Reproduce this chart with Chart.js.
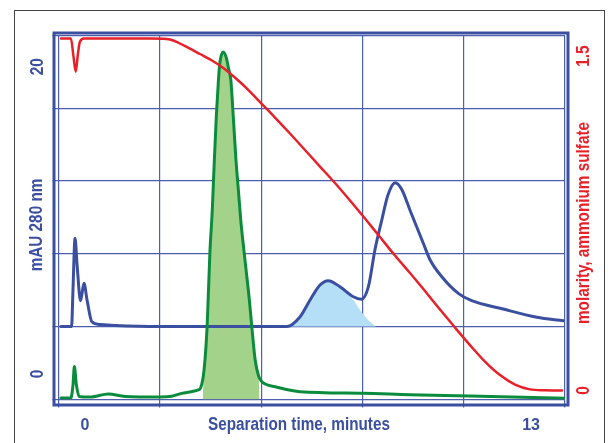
<!DOCTYPE html>
<html>
<head>
<meta charset="utf-8">
<script src="https://cdn.jsdelivr.net/npm/chart.js@4/dist/chart.umd.min.js"></script>
<style>
  html, body { margin: 0; padding: 0; background: #fff; overflow: hidden; }
  #wrap { position: relative; width: 613px; height: 443px; }
  #wrap canvas { position: absolute; left: 0; top: 0; }
  #edge { position: absolute; left: 14px; top: 10px; width: 589px; height: 460px; border: 1px solid #444; pointer-events: none; }
</style>
</head>
<body>
<div id="wrap">
  <canvas id="chart" width="613" height="443"></canvas>
  <div id="edge"></div>
</div>
<script>
// time axis in minutes, UV in mAU (left), salt in M (right)
const X_MIN = -0.772, X_MAX = 13.99;
const Y_MIN = -1.66, Y_MAX = 22.03;
const Y2_MIN = -0.040, Y2_MAX = 1.592;

const X_LABELS = [0, 13];
const LEFT_LABELS = [0, 20];
const RIGHT_LABELS = [0, 1.5];

// blue UV trace
const UV_T   = [-0.70,-0.39,-0.35,-0.29,-0.23,-0.13,-0.03,0.06,0.20,0.44,0.87,2.19,5.88,6.27,6.56,6.85,7.09,7.43,7.82,8.06,8.26,8.45,8.65,8.83,9.04,9.24,9.47,9.86,10.06,10.40,10.88,11.27,12.10,13.17,13.94];
const UV_MAU = [3.09,3.09,5.47,8.83,7.09,4.77,5.90,4.82,3.40,3.22,3.16,3.09,3.09,3.73,4.82,5.79,6.07,5.68,5.03,4.86,5.68,8.07,10.02,11.65,12.45,11.98,10.67,8.51,7.42,6.33,5.25,4.77,4.28,3.69,3.47];

// green trace
const GREEN_T   = [-0.70,-0.41,-0.35,-0.31,-0.25,-0.17,0.15,0.68,1.17,2.19,2.53,2.82,3.10,3.30,3.37,3.47,3.56,3.64,3.71,3.77,3.83,3.89,3.93,4.03,4.12,4.18,4.25,4.31,4.40,4.47,4.54,4.64,4.79,4.86,4.96,5.06,5.14,5.25,5.59,6.27,8.10,9.47,11.22,13.99];
const GREEN_MAU = [-1.56,-1.56,-0.72,0.48,-0.72,-1.46,-1.50,-1.30,-1.46,-1.50,-1.45,-1.26,-1.15,-1.04,-0.91,0.26,3.12,7.88,10.67,13.93,16.86,19.14,20.24,20.96,20.57,19.92,19.14,17.18,13.93,11.98,10.02,7.88,4.82,3.12,0.91,-0.13,-0.46,-0.65,-0.86,-1.15,-1.25,-1.35,-1.43,-1.58];

// collected fraction under the green peak
const FRAC_G_T   = [3.43,3.47,3.56,3.64,3.71,3.77,3.83,3.89,3.93,4.03,4.12,4.18,4.25,4.31,4.40,4.47,4.54,4.64,4.79,4.86,4.96,5.06,5.09];
const FRAC_G_MAU = [-1.66,0.26,3.12,7.88,10.67,13.93,16.86,19.14,20.24,20.96,20.57,19.92,19.14,17.18,13.93,11.98,10.02,7.88,4.82,3.12,0.91,-0.13,-1.66];

// shaded first blue peak
const FRAC_B_T   = [5.88,6.27,6.56,6.85,7.09,7.43,7.82,8.02,8.25,8.48];
const FRAC_B_MAU = [3.09,3.73,4.82,5.79,6.07,5.63,4.82,4.16,3.51,3.09];
const FRAC_B_BASE = 3.09;

// ammonium sulfate gradient
const SALT_T = [-0.70,-0.41,-0.34,-0.27,-0.21,-0.15,-0.03,1.894,2.273,2.477,2.711,3.002,3.352,3.701,4.051,4.401,4.751,5.101,5.538,5.975,6.412,6.849,7.286,7.724,8.161,8.598,9.035,9.472,9.910,10.347,10.784,11.221,11.658,12.096,12.533,12.970,13.407,13.902];
const SALT_M = [1.578,1.578,1.504,1.430,1.504,1.563,1.578,1.578,1.5776,1.5740,1.5605,1.5381,1.5090,1.4798,1.4439,1.3991,1.3498,1.2937,1.2242,1.1525,1.0785,1.0045,0.9305,0.8520,0.7713,0.6883,0.6054,0.5269,0.4462,0.3632,0.2825,0.2040,0.1300,0.0695,0.0269,0.0054,0.001,0.000];

const BLUE = '#3a4fa0';
const GRID = '#4d5eac';
const RED = '#e8202a';
const GREEN = '#0b8c3d';
const FONT_FAMILY = "'Liberation Sans', Arial, sans-serif";

const pts = (xs, ys) => xs.map((x, i) => ({ x, y: ys[i] }));
const gridTicks = (lo, hi) => [0, 1, 2, 3, 4].map(k => lo + k * (hi - lo) / 5).concat([hi]);
const isLabelTick = c => c.tick && X_LABELS.includes(c.tick.value);

// bold condensed-looking text, optionally turned to read bottom-to-top
function drawText(ctx, str, x, y, color, size, squeeze, vertical) {
  ctx.save();
  ctx.translate(x, y);
  if (vertical) ctx.rotate(-Math.PI / 2);
  ctx.scale(squeeze, 1);
  ctx.font = 'bold ' + size + 'px ' + FONT_FAMILY;
  ctx.fillStyle = color;
  ctx.textAlign = 'center';
  ctx.textBaseline = 'middle';
  ctx.fillText(str, 0, 0);
  ctx.restore();
}

const framePlugin = {
  id: 'frame',
  afterDraw(chart) {
    const { ctx, chartArea: a, scales } = chart;
    ctx.save();
    ctx.strokeStyle = BLUE;
    ctx.lineWidth = 3;
    ctx.strokeRect(a.left - 4.5, a.top - 2.5, a.right - a.left + 7.5, a.bottom - a.top + 8);
    ctx.restore();

    LEFT_LABELS.forEach(v => drawText(ctx, String(v), 38, scales.y.getPixelForValue(v), BLUE, 17.5, 0.88, true));
    RIGHT_LABELS.forEach(v => drawText(ctx, String(v), 584, scales.y2.getPixelForValue(v), RED, 17.5, 0.88, true));
    drawText(ctx, 'mAU 280 nm', 37.5, 225, BLUE, 18, 0.85, true);
    drawText(ctx, 'molarity, ammonium sulfate', 584, 223, RED, 18, 0.85, true);
    drawText(ctx, 'Separation time, minutes', 299, 425.5, BLUE, 18, 0.85, false);
  }
};

new Chart(document.getElementById('chart'), {
  type: 'line',
  data: {
    datasets: [
      { label: 'salt', data: pts(SALT_T, SALT_M), yAxisID: 'y2', borderColor: RED, borderWidth: 2.5, order: 0 },
      { label: 'green', data: pts(GREEN_T, GREEN_MAU), yAxisID: 'y', borderColor: GREEN, borderWidth: 3, order: 1 },
      { label: 'uv', data: pts(UV_T, UV_MAU), yAxisID: 'y', borderColor: BLUE, borderWidth: 3, order: 2 },
      { label: 'frac b', data: pts(FRAC_B_T, FRAC_B_MAU), yAxisID: 'y', borderWidth: 0, borderColor: 'rgba(0,0,0,0)',
        backgroundColor: '#b5dff6', fill: { value: FRAC_B_BASE }, order: 3 },
      { label: 'frac g', data: pts(FRAC_G_T, FRAC_G_MAU), yAxisID: 'y', borderWidth: 0, borderColor: 'rgba(0,0,0,0)',
        backgroundColor: '#a3d38b', fill: 'start', order: 4 }
    ]
  },
  options: {
    responsive: false,
    animation: false,
    devicePixelRatio: 1,
    layout: { padding: { top: 35.5, left: 0, right: 0, bottom: 0 } },
    elements: {
      point: { radius: 0 },
      line: { cubicInterpolationMode: 'monotone', fill: false, borderJoinStyle: 'round', borderCapStyle: 'round' }
    },
    plugins: { legend: { display: false }, tooltip: { enabled: false } },
    scales: {
      x: {
        type: 'linear', min: X_MIN, max: X_MAX,
        afterBuildTicks: s => { s.ticks = gridTicks(X_MIN, X_MAX).concat(X_LABELS).sort((p, q) => p - q).map(v => ({ value: v })); },
        grid: { color: c => isLabelTick(c) ? 'rgba(0,0,0,0)' : GRID, tickColor: c => isLabelTick(c) ? 'rgba(0,0,0,0)' : GRID, lineWidth: 1.2, tickLength: 8 },
        border: { display: false },
        ticks: {
          autoSkip: false, maxRotation: 0, padding: 8, color: BLUE,
          font: { family: FONT_FAMILY, size: 16, weight: 'bold' },
          callback: v => X_LABELS.includes(v) ? String(v) : ''
        },
        afterFit: s => { s.height = 43.5; }
      },
      y: {
        position: 'left', min: Y_MIN, max: Y_MAX,
        afterBuildTicks: s => { s.ticks = gridTicks(Y_MIN, Y_MAX).map(v => ({ value: v })); },
        grid: { color: GRID, tickColor: GRID, lineWidth: 1.2, tickLength: 6 },
        border: { display: false },
        ticks: { display: false },
        afterFit: s => { s.width = 58.5; }
      },
      y2: {
        position: 'right', min: Y2_MIN, max: Y2_MAX,
        grid: { display: false },
        border: { display: false },
        ticks: { display: false },
        afterFit: s => { s.width = 48; }
      }
    }
  },
  plugins: [framePlugin]
});
</script>
</body>
</html>
